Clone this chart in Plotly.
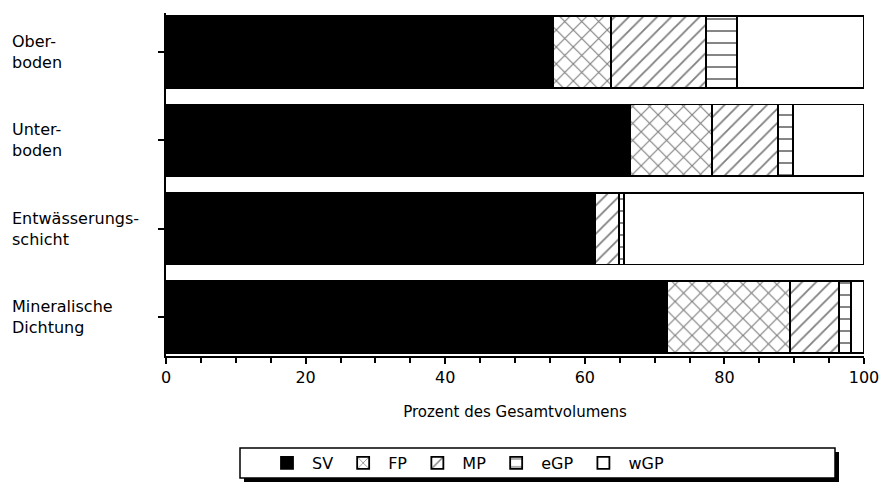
import plotly.graph_objects as go

# ---- data ----
categories = ["Oberboden", "Unterboden", "Entwässerungsschicht", "Mineralische Dichtung"]
category_labels = ["Ober-<br>boden", "Unter-<br>boden", "Entwässerungs-<br>schicht", "Mineralische<br>Dichtung"]
series_names = ["SV", "FP", "MP", "eGP", "wGP"]
SV = [55.4, 66.5, 61.5, 71.8]
FP = [8.4, 11.7, 0.0, 17.6]
MP = [13.6, 9.5, 3.4, 7.0]
eGP = [4.4, 2.1, 0.7, 1.7]
wGP = [18.2, 10.2, 34.4, 1.9]
x_ticks = [0, 20, 40, 60, 80, 100]

series_values = [SV, FP, MP, eGP, wGP]
styles = [
    dict(color="black", pattern=dict(shape="")),
    dict(color="white", pattern=dict(shape="x", fgcolor="black", bgcolor="white", size=12, solidity=0.18)),
    dict(color="white", pattern=dict(shape="/", fgcolor="black", bgcolor="white", size=10, solidity=0.18)),
    dict(color="white", pattern=dict(shape="-", fgcolor="black", bgcolor="white", size=12, solidity=0.16)),
    dict(color="white", pattern=dict(shape="")),
]

FONT = "DejaVu Sans"

fig = go.Figure()
for name, vals, st in zip(series_names, series_values, styles):
    fig.add_trace(go.Bar(
        y=categories, x=vals, name=name, orientation="h",
        marker=dict(color=st["color"], pattern=st["pattern"],
                    line=dict(color="black", width=1.8)),
    ))

W, H = 880, 486
PL, PR, PT, PB = 166, 864, 13, 356  # plot area in screenshot pixels
ml, mr, mt, mb = PL, W - PR, PT, H - PB
pw, ph = PR - PL, PB - PT

def px_x(p):
    return (p - PL) / pw

def px_y(p):
    return (PB - p) / ph

# category labels, left aligned as in the reference
for cat, lab in zip(categories, category_labels):
    fig.add_annotation(x=px_x(10), xref="paper", y=cat, yref="y", text=lab,
                       showarrow=False, xanchor="left", yanchor="middle", align="left",
                       font=dict(family=FONT, size=16, color="black"))

# legend frame with drop shadow
fig.add_shape(type="rect", xref="paper", yref="paper",
              x0=px_x(244), x1=px_x(839), y0=px_y(482), y1=px_y(452),
              fillcolor="black", line=dict(width=0), layer="above")
fig.add_shape(type="rect", xref="paper", yref="paper",
              x0=px_x(240), x1=px_x(835), y0=px_y(478), y1=px_y(448),
              fillcolor="white", line=dict(color="black", width=1.5), layer="above")

fig.update_layout(
    width=W, height=H,
    margin=dict(l=ml, r=mr, t=mt, b=mb, autoexpand=False),
    barmode="stack", bargap=0.19,
    plot_bgcolor="white", paper_bgcolor="white",
    font=dict(family=FONT, size=16, color="black"),
    showlegend=True,
    legend=dict(orientation="h", x=px_x(262), xanchor="left", y=px_y(463), yanchor="middle",
                bgcolor="rgba(0,0,0,0)", borderwidth=0, itemwidth=40,
                font=dict(family=FONT, size=16, color="black"),
                traceorder="normal"),
    xaxis=dict(range=[0, 100], tickvals=x_ticks, ticktext=[str(v) for v in x_ticks],
               automargin=False,
               showgrid=False, zeroline=False, showline=True, linecolor="black", linewidth=2,
               ticks="outside", ticklen=6, tickwidth=1.5, tickcolor="black",
               minor=dict(dtick=5, ticks="outside", ticklen=5, tickwidth=1.5, tickcolor="black"),
               tickfont=dict(family=FONT, size=16),
               title=dict(text="Prozent des Gesamtvolumens", standoff=20,
                          font=dict(family=FONT, size=15))),
    yaxis=dict(categoryorder="array", categoryarray=categories, range=[3.44, -0.44],
               automargin=False,
               showgrid=False, zeroline=False, showline=True, linecolor="black", linewidth=2,
               ticks="outside", ticklen=6, tickwidth=1.5, tickcolor="black",
               showticklabels=False),
)

# remove the default 8px page margin so the figure sits at the window's corner
fig.write_html("out.html", config={"displayModeBar": False},
               post_script="document.body.style.margin='0';document.body.style.overflow='hidden';")
